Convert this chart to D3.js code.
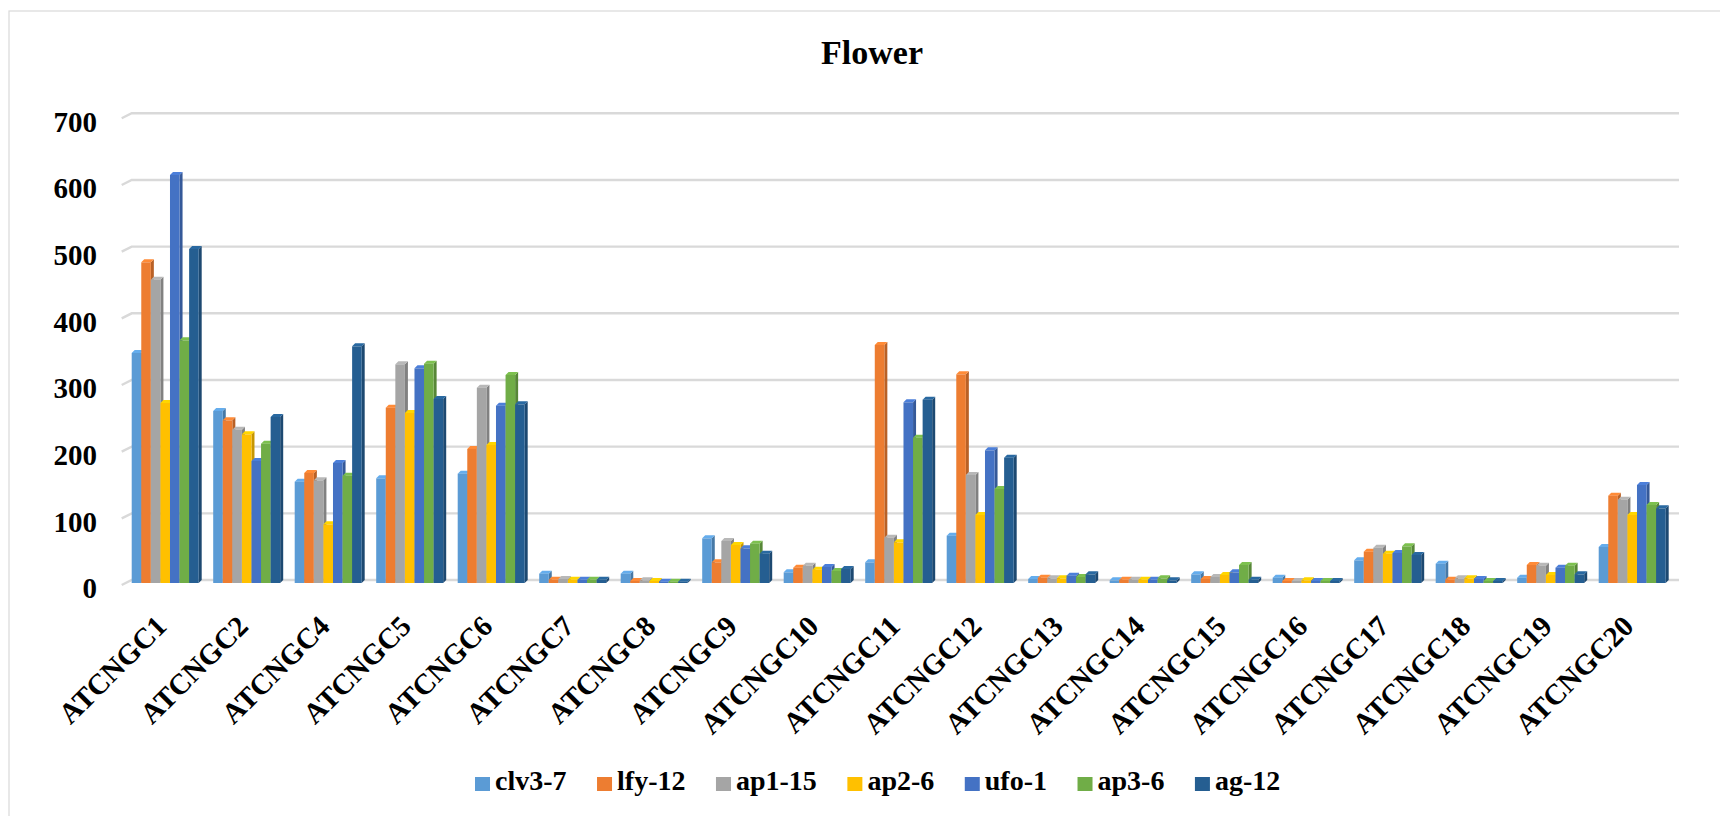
<!DOCTYPE html>
<html>
<head>
<meta charset="utf-8">
<script src="https://cdn.jsdelivr.net/npm/d3@7/dist/d3.min.js"></script>
<style>
  html, body { margin: 0; padding: 0; background: #fff; }
  svg { display: block; }
  text { font-family: "Liberation Serif", "Times New Roman", serif; font-weight: bold; fill: #000; }
</style>
</head>
<body>
<svg id="chart" width="1720" height="816"></svg>
<script>
// ---- data ----
const title = "Flower";
const categories = ["ATCNGC1","ATCNGC2","ATCNGC4","ATCNGC5","ATCNGC6","ATCNGC7","ATCNGC8","ATCNGC9","ATCNGC10","ATCNGC11","ATCNGC12","ATCNGC13","ATCNGC14","ATCNGC15","ATCNGC16","ATCNGC17","ATCNGC18","ATCNGC19","ATCNGC20"];
const seriesNames = ["clv3-7","lfy-12","ap1-15","ap2-6","ufo-1","ap3-6","ag-12"];
const clv3_7 = [345,258,152,157,164,14,14,67,16,31,71,6,4,13,8,34,29,8,54];
const lfy_12 = [481,244,165,263,201,5,3,31,23,357,313,8,5,6,3,47,5,27,131];
const ap1_15 = [455,230,154,328,293,6,4,63,26,68,162,7,5,9,3,53,7,26,125];
const ap2_6  = [270,223,88,255,207,5,3,57,20,61,102,7,5,12,4,44,7,12,102];
const ufo_1  = [612,183,180,322,266,5,2,52,24,271,199,11,5,16,3,45,6,23,147];
const ap3_6  = [364,209,161,329,312,5,2,59,18,218,141,9,7,27,3,55,3,26,117];
const ag_12  = [501,249,355,276,268,5,2,44,21,275,188,13,4,5,3,42,3,13,112];
const yTicks = [0,100,200,300,400,500,600,700];
const colors = ["#5B9BD5","#ED7D31","#A5A5A5","#FFC000","#4472C4","#70AD47","#255E91"];

const seriesValues = [clv3_7, lfy_12, ap1_15, ap2_6, ufo_1, ap3_6, ag_12];

// ---- layout ----
const svg = d3.select("#chart");
const backLeft = 131.7, backRight = 1679, slantDX = 10, slantDY = 5;
const depthX = 3, depthY = 3;

// chart border
svg.append("rect").attr("x", 9).attr("y", 11).attr("width", 1740).attr("height", 840)
  .attr("fill", "none").attr("stroke", "#d9d9d9").attr("stroke-width", 1.2);

const y = d3.scaleLinear().domain([0, 700]).range([580, 113.3]);
const x0 = d3.scaleBand().domain(categories).range([124.45, 1672.95]).paddingInner(0.178).paddingOuter(0.089);
const x1 = d3.scaleBand().domain(seriesNames).range([0, x0.bandwidth()]).padding(0);
const color = d3.scaleOrdinal().domain(seriesNames).range(colors);

// title
svg.append("text").attr("x", 872).attr("y", 64).attr("text-anchor", "middle")
  .style("font-size", "34px").text(title);

// gridlines (back wall with floor slant)
const grid = svg.append("g");
yTicks.forEach(t => {
  const yy = y(t);
  grid.append("path")
    .attr("d", `M${backLeft - slantDX},${yy + slantDY}L${backLeft},${yy}L${backRight},${yy}`)
    .attr("fill", "none").attr("stroke", "#d9d9d9").attr("stroke-width", 2.4);
});

// y axis labels
const yAxis = svg.append("g").attr("transform", "translate(97,8.7)")
  .call(d3.axisLeft(y).tickValues(yTicks).tickSize(0).tickPadding(0));
yAxis.select(".domain").remove();
yAxis.selectAll("text").style("font-size", "29px").attr("font-family", null).attr("fill", "#000");

// bars (3D-style columns)
const barsG = svg.append("g");
categories.forEach((cat, ci) => {
  seriesNames.forEach((s, si) => {
    const v = seriesValues[si][ci];
    const xl = x0(cat) + x1(s);
    const w = x1.bandwidth();
    const yf = y(v) + depthY;
    const yb = y(0) + depthY;
    const c = d3.color(color(s));
    const g = barsG.append("g");
    // side
    g.append("path")
      .attr("d", `M${xl + w},${yf}L${xl + w + depthX},${yf - depthY}L${xl + w + depthX},${yb - depthY}L${xl + w},${yb}Z`)
      .attr("fill", c.darker(0.7));
    // top
    g.append("path")
      .attr("d", `M${xl},${yf}L${xl + depthX},${yf - depthY}L${xl + w + depthX},${yf - depthY}L${xl + w},${yf}Z`)
      .attr("fill", c.brighter(0.3));
    // front
    g.append("rect").attr("x", xl).attr("y", yf).attr("width", w).attr("height", Math.max(0, yb - yf))
      .attr("fill", c);
  });
});

// x axis labels
const xAxis = svg.append("g").attr("transform", "translate(0,583)")
  .call(d3.axisBottom(x0).tickSize(0));
xAxis.select(".domain").remove();
xAxis.selectAll("text")
  .attr("y", 0).attr("dy", null).attr("x", 0)
  .attr("text-anchor", "end")
  .attr("transform", "translate(3,45) rotate(-45)")
  .attr("font-family", null).attr("fill", "#000")
  .style("font-size", "29px");

// legend
const legend = svg.append("g");
let lx = 475;
seriesNames.forEach((s, i) => {
  legend.append("rect").attr("x", lx).attr("y", 777).attr("width", 15).attr("height", 14).attr("fill", color(s));
  const t = legend.append("text").attr("x", lx + 20).attr("y", 790).style("font-size", "28px").text(s);
  lx = lx + 20 + t.node().getComputedTextLength() + 30.5;
});
</script>
</body>
</html>
